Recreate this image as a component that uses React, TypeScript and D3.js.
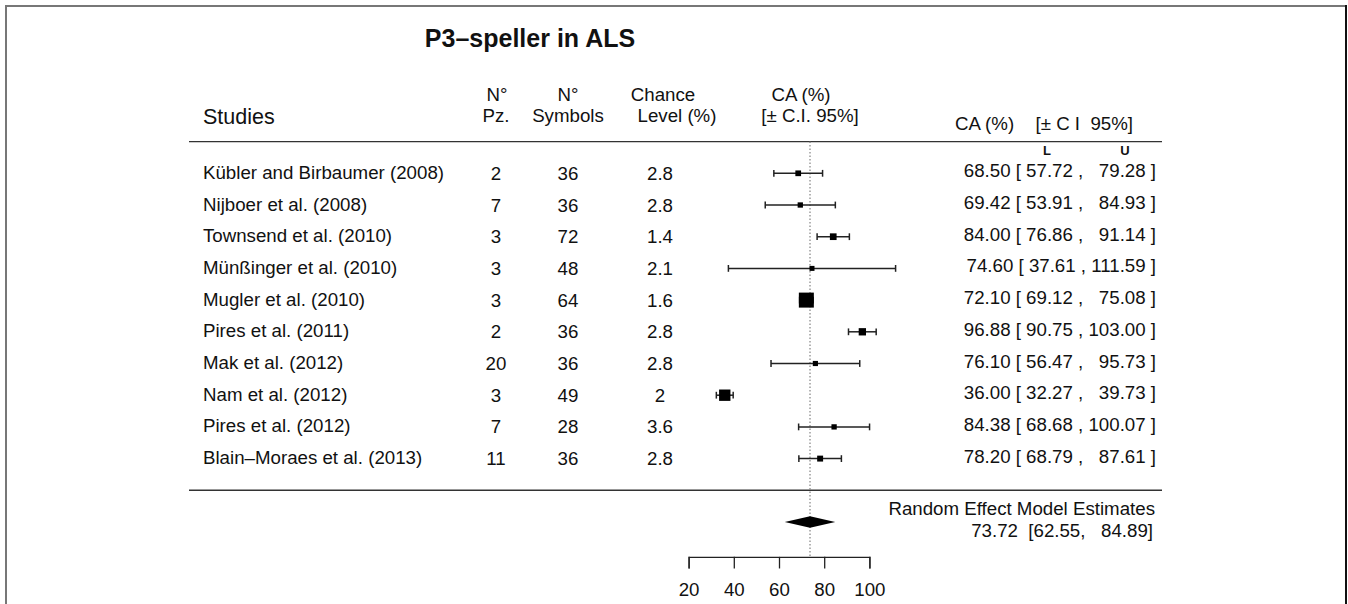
import React, { useEffect, useRef } from "react";
import * as d3 from "d3";

const title = "P3–speller in ALS";
const studies = [
  "Kübler and Birbaumer (2008)",
  "Nijboer et al. (2008)",
  "Townsend et al. (2010)",
  "Münßinger et al. (2010)",
  "Mugler et al. (2010)",
  "Pires et al. (2011)",
  "Mak et al. (2012)",
  "Nam et al. (2012)",
  "Pires et al. (2012)",
  "Blain–Moraes et al. (2013)",
];
const nPz = ["2", "7", "3", "3", "3", "2", "20", "3", "7", "11"];
const nSymbols = ["36", "36", "72", "48", "64", "36", "36", "49", "28", "36"];
const chanceLevel = ["2.8", "2.8", "1.4", "2.1", "1.6", "2.8", "2.8", "2", "3.6", "2.8"];
const ca = [68.5, 69.42, 84.0, 74.6, 72.1, 96.88, 76.1, 36.0, 84.38, 78.2];
const lower = [57.72, 53.91, 76.86, 37.61, 69.12, 90.75, 56.47, 32.27, 68.68, 68.79];
const upper = [79.28, 84.93, 91.14, 111.59, 75.08, 103.0, 95.73, 39.73, 100.07, 87.61];
const summaryEst = 73.72;
const summaryLower = 62.55;
const summaryUpper = 84.89;
const summaryLabel = "Random Effect Model Estimates";
const axisTicks = [20, 40, 60, 80, 100];

const FONT = "'Liberation Sans', Arial, Helvetica, sans-serif";
const FS = 18.7;

const fmt = d3.format(".2f");

export default function App() {
  const axisRef = useRef<SVGGElement>(null);
  const W = 1348;
  const H = 604;

  const x = d3.scaleLinear().domain([20, 100]).range([688.6, 869.4]);
  const y = d3.scaleLinear().domain([0, 1]).range([173.3, 205.0]);

  const weights = lower.map((l, i) => {
    const se = (upper[i] - l) / 3.92;
    return 1 / (se * se);
  });
  const size = d3
    .scaleLinear()
    .domain(d3.extent(weights) as [number, number])
    .range([5, 15]);

  const axisY = y(12.1);

  useEffect(() => {
    if (!axisRef.current) return;
    const g = d3.select(axisRef.current);
    g.selectAll("*").remove();
    g.call(
      d3
        .axisBottom(x)
        .tickValues(axisTicks)
        .tickFormat(d3.format("d"))
        .tickSizeOuter(0)
        .tickSize(11.6)
        .tickPadding(14.5)
    );
    g.attr("font-size", null).attr("font-family", null);
    g.select(".domain").attr("stroke", "#222").attr("stroke-width", 1.3);
    g.selectAll(".tick line").attr("stroke", "#222").attr("stroke-width", 1.3);
    g.selectAll(".tick text")
      .attr("fill", "#111")
      .attr("font-size", FS)
      .attr("font-family", FONT);
  }, []);

  const rightText = (e: number, l: number, u: number) =>
    `${fmt(e)} [ ${fmt(l)} , ${u < 100 ? "  " : ""}${fmt(u)} ]`;

  const lineColor = "#222";
  const pre = { whiteSpace: "pre" as const };

  return (
    <svg
      width={W}
      height={H}
      style={{ position: "absolute", left: 0, top: 0, background: "#fff" }}
      fontFamily={FONT}
    >
      {/* frame */}
      <line x1={5} x2={1347} y1={6} y2={6} stroke="#777" strokeWidth={2} />
      <line x1={6} x2={6} y1={5} y2={H} stroke="#777" strokeWidth={2} />
      <line x1={1346} x2={1346} y1={5} y2={H} stroke="#111" strokeWidth={2} />

      {/* title */}
      <text x={530} y={47} fontSize={25} fontWeight="bold" textAnchor="middle" fill="#111">
        {title}
      </text>

      {/* headers */}
      <g fill="#111" fontSize={FS}>
        <text x={203} y={124} fontSize={21.5}>Studies</text>
        <text x={497} y={101} textAnchor="middle">N°</text>
        <text x={496} y={122} textAnchor="middle">Pz.</text>
        <text x={568} y={101} textAnchor="middle">N°</text>
        <text x={568} y={122} textAnchor="middle">Symbols</text>
        <text x={663} y={101} textAnchor="middle">Chance</text>
        <text x={677} y={122} textAnchor="middle">Level (%)</text>
        <text x={801} y={101} textAnchor="middle">CA (%)</text>
        <text x={810} y={122} textAnchor="middle">[± C.I. 95%]</text>
        <text x={955} y={130}>CA (%)</text>
        <text x={1133} y={130} textAnchor="end" xmlSpace="preserve" style={pre}>
          {"[± C I  95%]"}
        </text>
        <text x={1047} y={155} fontSize={13} fontWeight="bold" textAnchor="middle">L</text>
        <text x={1125} y={155} fontSize={13} fontWeight="bold" textAnchor="middle">U</text>
      </g>

      {/* separators */}
      <line x1={189} x2={1162} y1={y(-1)} y2={y(-1)} stroke="#333" strokeWidth={1.4} />
      <line x1={189} x2={1162} y1={y(10)} y2={y(10)} stroke="#333" strokeWidth={1.4} />

      {/* reference dotted line */}
      <line
        x1={x(summaryEst)}
        x2={x(summaryEst)}
        y1={y(-1)}
        y2={axisY}
        stroke="#777"
        strokeWidth={1.1}
        strokeDasharray="1.3,2.2"
      />

      {/* rows */}
      {studies.map((s, i) => {
        const yy = y(i);
        const sz = size(weights[i]);
        return (
          <g key={s}>
            <text x={203} y={yy + 5.5} fontSize={FS} fill="#111">{s}</text>
            <text x={496} y={yy + 6.5} fontSize={FS} fill="#111" textAnchor="middle">{nPz[i]}</text>
            <text x={568} y={yy + 6.5} fontSize={FS} fill="#111" textAnchor="middle">{nSymbols[i]}</text>
            <text x={660} y={yy + 6.5} fontSize={FS} fill="#111" textAnchor="middle">{chanceLevel[i]}</text>
            <line x1={x(lower[i])} x2={x(upper[i])} y1={yy} y2={yy} stroke={lineColor} strokeWidth={1.5} />
            <line x1={x(lower[i])} x2={x(lower[i])} y1={yy - 3.4} y2={yy + 3.4} stroke={lineColor} strokeWidth={1.5} />
            <line x1={x(upper[i])} x2={x(upper[i])} y1={yy - 3.4} y2={yy + 3.4} stroke={lineColor} strokeWidth={1.5} />
            <rect x={x(ca[i]) - sz / 2} y={yy - sz / 2} width={sz} height={sz} fill="#000" />
            <text
              x={1156}
              y={yy + 4}
              fontSize={FS}
              fill="#111"
              textAnchor="end"
              xmlSpace="preserve"
              style={pre}
            >
              {rightText(ca[i], lower[i], upper[i])}
            </text>
          </g>
        );
      })}

      {/* summary */}
      <polygon
        points={[
          [x(summaryLower), y(11)],
          [x(summaryEst), y(11) - 5.8],
          [x(summaryUpper), y(11)],
          [x(summaryEst), y(11) + 5.8],
        ]
          .map((p) => p.join(","))
          .join(" ")}
        fill="#000"
      />
      <text x={1155} y={y(10.55) + 7} fontSize={FS} fill="#111" textAnchor="end">
        {summaryLabel}
      </text>
      <text
        x={1153}
        y={y(11.25) + 7}
        fontSize={FS}
        fill="#111"
        textAnchor="end"
        xmlSpace="preserve"
        style={pre}
      >
        {`${fmt(summaryEst)}  [${fmt(summaryLower)},   ${fmt(summaryUpper)}]`}
      </text>

      {/* axis */}
      <g ref={axisRef} transform={`translate(0,${axisY})`} />
    </svg>
  );
}
